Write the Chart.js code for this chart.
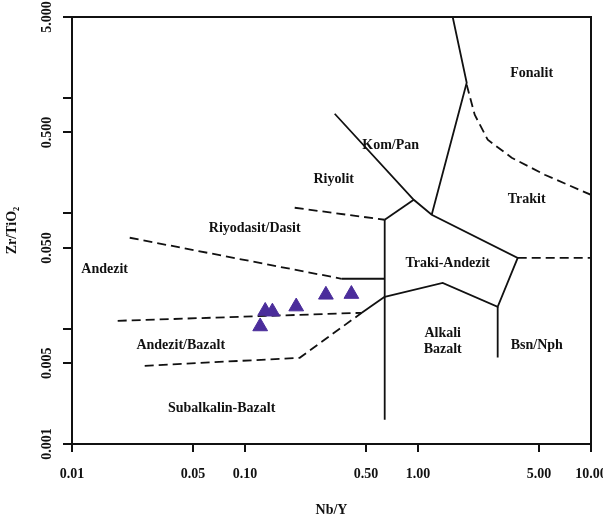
<!DOCTYPE html>
<html>
<head>
<meta charset="utf-8">
<script src="https://cdn.jsdelivr.net/npm/chart.js@4/dist/chart.umd.min.js"></script>
<style>html,body{margin:0;padding:0;background:#fff}canvas{display:block}</style>
</head>
<body>
<canvas id="c" width="603" height="521"></canvas>
<script>
// ---- axis ticks ----
const xTickValues = [0.01, 0.05, 0.1, 0.5, 1, 5, 10];
const xTickLabels = ['0.01', '0.05', '0.10', '0.50', '1.00', '5.00', '10.00'];
const yTickValues = [5, 1, 0.5, 0.1, 0.05, 0.01, 0.005, 0.001];
const yTickLabels = ['5.000', '', '0.500', '', '0.050', '', '0.005', '0.001'];

// ---- samples (Nb/Y, Zr/TiO2) ----
const sampleNbY = [0.1309, 0.1440, 0.1977, 0.2935, 0.412, 0.1224];
const sampleZrTi = [0.0142, 0.0140, 0.0155, 0.0196, 0.0199, 0.01042];

// ---- solid field boundaries [Nb/Y, Zr/TiO2] ----
const bFonKom = [[1.587, 5], [1.912, 1.348], [1.200, 0.0967]];
const bKomRiy = [[0.330, 0.726], [0.945, 0.1305], [1.200, 0.0967], [3.77, 0.0410], [2.888, 0.01544], [1.389, 0.0249], [0.642, 0.01885]];
const bRiyTraki = [[0.945, 0.1305], [0.642, 0.0876]];
const bVertical = [[0.642, 0.0876], [0.642, 0.00162]];
const bAndTraki = [[0.362, 0.0270], [0.642, 0.0270]];
const bAndBasTraki = [[0.473, 0.0137], [0.642, 0.01885]];
const bAlkBsn = [[2.888, 0.01544], [2.888, 0.00562]];

// ---- dashed field boundaries ----
const dFonTrakit = [[1.912, 1.295], [2.127, 0.711], [2.529, 0.432], [3.48, 0.302], [5.40, 0.215], [10, 0.144]];
const dTrakitBsn = [[3.77, 0.0410], [10, 0.0410]];
const dRiyRiyodas = [[0.1938, 0.1113], [0.642, 0.0876]];
const dRiyodasAnd = [[0.02156, 0.0612], [0.362, 0.0270]];
const dAndAndBas = [[0.01837, 0.01167], [0.473, 0.0137]];
const dAndBasSub = [[0.02632, 0.00476], [0.2071, 0.00558], [0.473, 0.0137]];

// ---- field names ----
const fieldNames = ['Fonalit', 'Kom/Pan', 'Riyolit', 'Trakit', 'Riyodasit/Dasit', 'Andezit', 'Traki-Andezit', 'Andezit/Bazalt', 'Alkali', 'Bazalt', 'Bsn/Nph', 'Subalkalin-Bazalt'];
const fieldNbY = [4.54, 0.695, 0.3257, 4.25, 0.1138, 0.01545, 1.485, 0.0425, 1.389, 1.389, 4.86, 0.0733];
const fieldZrTi = [1.613, 0.383, 0.1946, 0.1305, 0.0732, 0.0323, 0.0364, 0.00709, 0.0090, 0.00655, 0.00709, 0.002017];

const FONT = 'Liberation Serif, Times New Roman, serif';
const INK = '#111';
const toXY = arr => arr.map(p => ({x: p[0], y: p[1]}));
function boundary(arr, dashed) {
  return {
    type: 'line', data: toXY(arr), showLine: true, fill: false,
    borderColor: INK, borderWidth: 1.8, borderDash: dashed ? [9, 5] : [],
    pointRadius: 0, pointHoverRadius: 0, tension: 0, order: 2
  };
}
const datasets = [
  ...[bFonKom, bKomRiy, bRiyTraki, bVertical, bAndTraki, bAndBasTraki, bAlkBsn].map(a => boundary(a, false)),
  ...[dFonTrakit, dTrakitBsn, dRiyRiyodas, dRiyodasAnd, dAndAndBas, dAndBasSub].map(a => boundary(a, true)),
  {
    type: 'scatter',
    data: sampleNbY.map((v, i) => ({x: v, y: sampleZrTi[i]})),
    pointStyle: 'triangle', pointRadius: 8.5, pointHoverRadius: 8.5,
    backgroundColor: 'rgb(75,45,155)', borderColor: 'rgb(75,45,155)', borderWidth: 1, order: 1
  }
];

const bgPlugin = {
  id: 'bg',
  beforeDraw(chart) {
    const ctx = chart.ctx;
    ctx.save(); ctx.fillStyle = '#fff'; ctx.fillRect(0, 0, chart.width, chart.height); ctx.restore();
  }
};
const framePlugin = {
  id: 'frame',
  afterDraw(chart) {
    const {ctx, chartArea: a} = chart;
    ctx.save();
    ctx.strokeStyle = INK; ctx.lineWidth = 2;
    ctx.beginPath();
    ctx.moveTo(a.left, a.top); ctx.lineTo(a.right, a.top); ctx.lineTo(a.right, a.bottom);
    ctx.stroke();
    ctx.restore();
  }
};
const labelPlugin = {
  id: 'fieldLabels',
  afterDatasetsDraw(chart) {
    const ctx = chart.ctx, xs = chart.scales.x, ys = chart.scales.y;
    ctx.save();
    ctx.font = 'bold 14px ' + FONT;
    ctx.fillStyle = INK; ctx.textAlign = 'center'; ctx.textBaseline = 'middle';
    fieldNames.forEach((t, i) => ctx.fillText(t, xs.getPixelForValue(fieldNbY[i]), ys.getPixelForValue(fieldZrTi[i])));
    ctx.restore();
  }
};

new Chart(document.getElementById('c'), {
  type: 'scatter',
  data: {datasets},
  plugins: [bgPlugin, framePlugin, labelPlugin],
  options: {
    responsive: false, animation: false, devicePixelRatio: 1,
    layout: {padding: {left: 0, right: 12, top: 17, bottom: 0}},
    plugins: {legend: {display: false}, tooltip: {enabled: false}},
    scales: {
      x: {
        type: 'logarithmic', min: 0.01, max: 10,
        afterBuildTicks: s => { s.ticks = xTickValues.map(v => ({value: v})); },
        afterFit: s => { s.height = 77; s.paddingLeft = 0; s.paddingRight = 0; },
        ticks: {autoSkip: false, maxRotation: 0, minRotation: 0, padding: 14, color: INK,
          font: {family: FONT, size: 14, weight: 'bold'},
          callback: (v, i) => xTickLabels[i]},
        grid: {display: true, drawOnChartArea: false, drawTicks: true, tickLength: 8, color: INK, lineWidth: 2},
        border: {display: true, color: INK, width: 2},
        title: {display: true, text: 'Nb/Y', color: INK, font: {family: FONT, size: 14, weight: 'bold'}, padding: {top: 0, bottom: 2}}
      },
      y: {
        type: 'logarithmic', min: 0.001, max: 5,
        afterBuildTicks: s => { s.ticks = yTickValues.map(v => ({value: v})); },
        afterFit: s => { s.width = 72; s.paddingTop = 0; s.paddingBottom = 0; },
        ticks: {autoSkip: false, minRotation: 90, maxRotation: 90, crossAlign: 'center', padding: 0, color: INK,
          font: {family: FONT, size: 14, weight: 'bold'},
          callback: (v, i) => yTickLabels[i]},
        grid: {display: true, drawOnChartArea: false, drawTicks: true, tickLength: 9, color: INK, lineWidth: 2},
        border: {display: true, color: INK, width: 2},
        title: {display: true, text: 'Zr/TiO₂', color: INK, font: {family: FONT, size: 14, weight: 'bold'}, padding: {top: 4, bottom: 0}}
      }
    }
  }
});
</script>
</body>
</html>
